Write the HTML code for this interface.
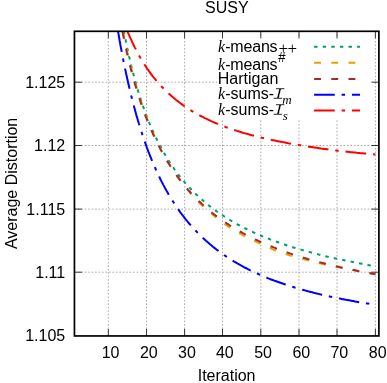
<!DOCTYPE html>
<html><head><meta charset="utf-8"><title>SUSY</title>
<style>
html,body{margin:0;padding:0;background:#fff;}
svg{display:block;}
text{font-family:"Liberation Sans",sans-serif;fill:#000;}
.it{font-family:"Liberation Serif",serif;font-style:italic;}
.pl{font-family:"Liberation Serif",serif;}
.cal{font-family:"Liberation Mono",monospace;font-style:italic;}
</style></head><body>
<svg width="387" height="383" viewBox="0 0 387 383">
<rect x="0" y="0" width="387" height="383" fill="#fff"/>
<defs><clipPath id="c"><rect x="74.45" y="31.30" width="304.45" height="304.65"/></clipPath></defs>

<g stroke="#000" stroke-opacity="0.45" stroke-width="0.75" stroke-dasharray="1.6 1.85" fill="none">
<line x1="108.3" y1="335.95" x2="108.3" y2="31.3"/>
<line x1="146.5" y1="335.95" x2="146.5" y2="31.3"/>
<line x1="184.6" y1="335.95" x2="184.6" y2="31.3"/>
<line x1="222.5" y1="335.95" x2="222.5" y2="31.3"/>
<line x1="260.8" y1="335.95" x2="260.8" y2="31.3"/>
<line x1="299.0" y1="335.95" x2="299.0" y2="31.3"/>
<line x1="337.0" y1="335.95" x2="337.0" y2="31.3"/>
<line x1="375.4" y1="335.95" x2="375.4" y2="31.3"/>
<line x1="74.45" y1="82.2" x2="378.9" y2="82.2"/>
<line x1="74.45" y1="145.5" x2="378.9" y2="145.5"/>
<line x1="74.45" y1="209.1" x2="378.9" y2="209.1"/>
<line x1="74.45" y1="272.2" x2="378.9" y2="272.2"/>
</g>
<g clip-path="url(#c)">
<path d="M122.8,25.3 L123.1,26.8 L123.4,28.3 L123.7,29.9 L124.0,31.4 L124.2,32.9 L124.5,34.3 L124.8,35.9 L125.1,37.4 L125.4,38.9 L125.7,40.4 L126.0,41.9 L126.3,43.4 L126.6,44.9 L126.9,46.4 L127.2,47.9 L127.6,49.5 L127.9,51.0 L128.2,52.4 L128.5,54.0 L128.9,55.5 L129.2,57.0 L129.6,58.4 L129.9,60.0 L130.3,61.5 L130.6,62.9 L131.0,64.4 L131.3,65.9 L131.7,67.4 L132.0,68.9 L132.4,70.4 L132.8,71.9 L133.2,73.3 L133.6,74.8 L134.0,76.3 L134.3,77.7 L134.7,79.2 L135.1,80.7 L135.5,82.1 L136.0,83.6 L136.4,85.1 L136.8,86.5 L137.2,88.0 L137.6,89.4 L138.1,90.9 L138.5,92.4 L139.0,93.8 L139.4,95.3 L139.9,96.7 L140.4,98.2 L140.8,99.6 L141.3,101.1 L141.8,102.5 L142.3,104.0 L142.8,105.4 L143.3,106.8 L143.8,108.3 L144.3,109.7 L144.8,111.2 L145.3,112.6 L145.9,114.0 L146.4,115.4 L146.9,116.8 L147.5,118.2 L148.0,119.6 L148.6,121.0 L149.2,122.5 L149.7,123.9 L150.3,125.3 L150.9,126.6 L151.5,128.0 L152.1,129.4 L152.7,130.8 L153.4,132.2 L154.0,133.6 L154.6,135.0 L155.3,136.3 L155.9,137.7 L156.6,139.0 L157.3,140.4 L158.0,141.8 L158.6,143.1 L159.3,144.5 L160.0,145.8 L160.8,147.1 L161.5,148.5 L162.2,149.8 L163.0,151.1 L163.7,152.4 L164.5,153.7 L165.2,155.1 L166.0,156.4 L166.8,157.6 L167.6,158.9 L168.4,160.2 L169.2,161.5 L170.1,162.8 L170.9,164.0 L171.7,165.3 L172.6,166.5 L173.5,167.8 L174.3,169.0 L175.2,170.2 L176.1,171.5 L177.0,172.7 L177.9,173.9 L178.8,175.1 L179.8,176.3 L180.7,177.5 L181.7,178.6 L182.6,179.8 L183.6,181.0 L184.6,182.1 L185.6,183.3 L186.6,184.4 L187.6,185.5 L188.6,186.6 L189.6,187.7 L190.7,188.8 L191.7,189.9 L192.8,191.0 L193.8,192.1 L194.9,193.1 L196.0,194.2 L197.1,195.2 L198.2,196.3 L199.3,197.3 L200.4,198.3 L201.5,199.3 L202.7,200.3 L203.8,201.3 L204.9,202.2 L206.1,203.2 L207.3,204.2 L208.4,205.1 L209.6,206.0 L210.8,207.0 L212.0,207.9 L213.2,208.8 L214.4,209.7 L215.7,210.6 L216.9,211.5 L218.1,212.3 L219.4,213.2 L220.6,214.1 L221.9,214.9 L223.1,215.7 L224.4,216.5 L225.7,217.4 L226.9,218.2 L228.2,219.0 L229.5,219.7 L230.8,220.5 L232.1,221.3 L233.4,222.0 L234.7,222.8 L236.0,223.5 L237.3,224.3 L238.7,225.0 L240.0,225.7 L241.3,226.4 L242.7,227.1 L244.0,227.8 L245.4,228.5 L246.7,229.1 L248.1,229.8 L249.4,230.4 L250.8,231.1 L252.2,231.7 L253.5,232.4 L254.9,233.0 L256.3,233.6 L257.7,234.2 L259.0,234.8 L260.4,235.4 L261.8,236.0 L263.2,236.6 L264.6,237.2 L266.0,237.7 L267.4,238.3 L268.8,238.8 L270.2,239.4 L271.6,239.9 L273.0,240.5 L274.4,241.0 L275.9,241.5 L277.3,242.0 L278.7,242.5 L280.1,243.0 L281.5,243.5 L283.0,244.0 L284.4,244.5 L285.8,245.0 L287.3,245.5 L288.7,245.9 L290.1,246.4 L291.6,246.8 L293.0,247.3 L294.4,247.7 L295.9,248.2 L297.3,248.6 L298.8,249.0 L300.2,249.5 L301.7,249.9 L303.1,250.3 L304.6,250.7 L306.0,251.1 L307.5,251.5 L308.9,251.9 L310.4,252.3 L311.8,252.7 L313.3,253.1 L314.7,253.5 L316.2,253.9 L317.7,254.2 L319.1,254.6 L320.6,255.0 L322.0,255.3 L323.5,255.7 L325.0,256.1 L326.4,256.4 L327.9,256.7 L329.4,257.1 L330.9,257.4 L332.3,257.8 L333.8,258.1 L335.3,258.4 L336.7,258.8 L338.2,259.1 L339.7,259.4 L341.1,259.7 L342.6,260.0 L344.1,260.3 L345.6,260.6 L347.0,260.9 L348.5,261.2 L350.0,261.5 L351.5,261.8 L353.0,262.1 L354.4,262.4 L355.9,262.7 L357.4,263.0 L358.9,263.3 L360.4,263.5 L361.9,263.8 L363.3,264.1 L364.8,264.4 L366.3,264.6 L367.8,264.9 L369.3,265.2 L370.8,265.4 L372.0,265.6" fill="none" stroke="#009e73" stroke-width="2" stroke-dasharray="3.44 5.16" stroke-dashoffset="2.95"/>
<path d="M121.8,25.3 L122.1,26.9 L122.4,28.4 L122.7,29.9 L123.0,31.4 L123.3,32.8 L123.6,34.4 L123.9,35.9 L124.2,37.4 L124.5,38.9 L124.8,40.4 L125.2,41.9 L125.5,43.4 L125.8,44.9 L126.1,46.4 L126.5,47.9 L126.8,49.4 L127.1,50.9 L127.5,52.4 L127.8,53.8 L128.2,55.3 L128.5,56.8 L128.9,58.3 L129.2,59.8 L129.6,61.3 L129.9,62.8 L130.3,64.2 L130.7,65.7 L131.0,67.2 L131.4,68.7 L131.8,70.1 L132.2,71.6 L132.6,73.1 L133.0,74.6 L133.4,76.0 L133.8,77.5 L134.2,79.0 L134.6,80.4 L135.0,81.9 L135.4,83.4 L135.8,84.8 L136.3,86.3 L136.7,87.8 L137.1,89.2 L137.6,90.7 L138.0,92.2 L138.5,93.6 L138.9,95.1 L139.4,96.5 L139.9,98.0 L140.4,99.4 L140.8,100.9 L141.3,102.3 L141.8,103.7 L142.3,105.2 L142.8,106.6 L143.3,108.1 L143.8,109.5 L144.3,110.9 L144.8,112.3 L145.3,113.8 L145.9,115.2 L146.4,116.6 L146.9,118.0 L147.4,119.4 L148.0,120.9 L148.5,122.3 L149.1,123.7 L149.7,125.1 L150.2,126.5 L150.8,127.9 L151.4,129.3 L152.0,130.7 L152.6,132.2 L153.2,133.5 L153.8,135.0 L154.4,136.3 L155.1,137.7 L155.7,139.1 L156.3,140.5 L157.0,141.9 L157.6,143.3 L158.3,144.6 L159.0,146.0 L159.6,147.3 L160.3,148.7 L161.0,150.0 L161.7,151.4 L162.4,152.7 L163.1,154.0 L163.9,155.4 L164.6,156.7 L165.4,158.0 L166.1,159.3 L166.9,160.6 L167.7,161.9 L168.5,163.2 L169.3,164.5 L170.1,165.8 L170.9,167.0 L171.7,168.3 L172.5,169.6 L173.4,170.8 L174.2,172.1 L175.1,173.3 L175.9,174.6 L176.8,175.8 L177.7,177.0 L178.6,178.3 L179.5,179.5 L180.4,180.7 L181.3,181.9 L182.2,183.1 L183.2,184.3 L184.1,185.5 L185.0,186.7 L186.0,187.8 L187.0,189.0 L187.9,190.1 L188.9,191.3 L189.9,192.4 L190.9,193.6 L191.9,194.7 L192.9,195.9 L193.9,197.0 L194.9,198.1 L195.9,199.2 L197.0,200.3 L198.0,201.4 L199.1,202.5 L200.1,203.5 L201.2,204.6 L202.3,205.6 L203.4,206.7 L204.5,207.7 L205.7,208.7 L206.8,209.7 L207.9,210.7 L209.1,211.7 L210.2,212.7 L211.4,213.6 L212.6,214.6 L213.7,215.5 L214.9,216.5 L216.1,217.4 L217.3,218.4 L218.5,219.3 L219.7,220.2 L220.9,221.1 L222.1,222.0 L223.3,222.9 L224.5,223.8 L225.7,224.7 L227.0,225.5 L228.2,226.4 L229.5,227.2 L230.8,228.0 L232.0,228.8 L233.3,229.6 L234.6,230.4 L235.9,231.2 L237.2,231.9 L238.5,232.7 L239.8,233.4 L241.2,234.2 L242.5,234.9 L243.8,235.6 L245.1,236.3 L246.5,237.0 L247.8,237.7 L249.2,238.3 L250.5,239.0 L251.9,239.7 L253.2,240.3 L254.6,241.0 L256.0,241.6 L257.3,242.2 L258.7,242.9 L260.1,243.5 L261.4,244.2 L262.8,244.8 L264.2,245.4 L265.5,246.1 L266.9,246.7 L268.3,247.3 L269.7,247.9 L271.0,248.5 L272.4,249.1 L273.8,249.7 L275.2,250.2 L276.6,250.7 L278.1,251.3 L279.5,251.8 L280.9,252.3 L282.3,252.8 L283.7,253.3 L285.2,253.8 L286.6,254.3 L288.0,254.7 L289.5,255.2 L290.9,255.6 L292.3,256.1 L293.8,256.5 L295.3,256.9 L296.7,257.3 L298.2,257.7 L299.6,258.1 L301.1,258.5 L302.5,258.9 L304.0,259.2 L305.4,259.6 L306.9,260.0 L308.4,260.4 L309.8,260.8 L311.3,261.2 L312.7,261.5 L314.2,261.9 L315.6,262.3 L317.1,262.7 L318.6,263.0 L320.0,263.4 L321.5,263.7 L323.0,264.1 L324.4,264.4 L325.9,264.7 L327.4,265.0 L328.8,265.3 L330.3,265.6 L331.8,265.9 L333.3,266.2 L334.8,266.5 L336.3,266.8 L337.7,267.1 L339.2,267.3 L340.7,267.6 L342.2,267.9 L343.7,268.2 L345.2,268.5 L346.6,268.8 L348.1,269.1 L349.6,269.4 L351.1,269.7 L352.6,269.9 L354.1,270.2 L355.5,270.5 L357.0,270.8 L358.5,271.1 L360.0,271.4 L361.5,271.6 L363.0,271.9 L364.4,272.2 L365.9,272.5 L367.4,272.8 L368.9,273.0 L370.4,273.3 L371.9,273.6 L373.3,273.8 L374.8,274.1 L375.4,274.2" fill="none" stroke="#e69f00" stroke-width="2" stroke-dasharray="6.85 10.27" stroke-dashoffset="10.11"/>
<path d="M121.2,25.4 L121.5,26.9 L121.8,28.4 L122.1,29.9 L122.4,31.4 L122.7,32.9 L123.0,34.4 L123.3,35.9 L123.6,37.4 L123.9,38.9 L124.2,40.4 L124.5,41.9 L124.9,43.4 L125.2,44.9 L125.5,46.4 L125.8,47.9 L126.2,49.4 L126.5,50.9 L126.8,52.4 L127.2,53.9 L127.5,55.4 L127.9,56.9 L128.2,58.4 L128.6,59.9 L129.0,61.4 L129.3,62.9 L129.7,64.3 L130.1,65.9 L130.5,67.3 L130.8,68.8 L131.2,70.3 L131.6,71.8 L132.0,73.2 L132.4,74.7 L132.8,76.2 L133.2,77.7 L133.6,79.2 L134.0,80.6 L134.4,82.1 L134.8,83.5 L135.3,85.0 L135.7,86.5 L136.1,87.9 L136.6,89.4 L137.0,90.8 L137.5,92.3 L137.9,93.7 L138.4,95.2 L138.8,96.6 L139.3,98.1 L139.8,99.5 L140.3,101.0 L140.7,102.4 L141.2,103.9 L141.7,105.3 L142.2,106.7 L142.7,108.2 L143.2,109.6 L143.8,111.1 L144.3,112.5 L144.8,113.9 L145.3,115.3 L145.9,116.8 L146.4,118.2 L147.0,119.6 L147.5,121.0 L148.1,122.4 L148.7,123.8 L149.3,125.2 L149.8,126.6 L150.4,128.0 L151.0,129.4 L151.6,130.8 L152.3,132.2 L152.9,133.6 L153.5,135.0 L154.1,136.3 L154.8,137.7 L155.4,139.1 L156.1,140.4 L156.7,141.8 L157.4,143.2 L158.1,144.5 L158.8,145.9 L159.5,147.2 L160.2,148.6 L160.9,149.9 L161.6,151.2 L162.3,152.6 L163.0,153.9 L163.8,155.2 L164.5,156.5 L165.3,157.8 L166.1,159.2 L166.8,160.4 L167.6,161.7 L168.4,163.0 L169.2,164.3 L170.0,165.6 L170.8,166.9 L171.7,168.1 L172.5,169.4 L173.3,170.6 L174.2,171.9 L175.1,173.1 L175.9,174.4 L176.8,175.6 L177.7,176.8 L178.6,178.0 L179.5,179.2 L180.4,180.5 L181.4,181.7 L182.3,182.8 L183.2,184.0 L184.2,185.2 L185.2,186.3 L186.1,187.5 L187.1,188.6 L188.1,189.8 L189.1,190.9 L190.1,192.0 L191.1,193.2 L192.2,194.3 L193.2,195.4 L194.2,196.5 L195.3,197.6 L196.4,198.6 L197.4,199.7 L198.5,200.8 L199.6,201.8 L200.7,202.8 L201.8,203.9 L202.9,204.9 L204.0,205.9 L205.1,206.9 L206.3,207.9 L207.4,208.9 L208.6,209.9 L209.7,210.8 L210.9,211.8 L212.1,212.7 L213.3,213.7 L214.4,214.6 L215.6,215.5 L216.8,216.4 L218.0,217.3 L219.3,218.2 L220.5,219.1 L221.7,220.0 L222.9,220.8 L224.2,221.7 L225.4,222.5 L226.7,223.4 L228.0,224.2 L229.2,225.0 L230.5,225.8 L231.8,226.6 L233.0,227.4 L234.3,228.2 L235.6,229.0 L236.9,229.8 L238.2,230.5 L239.5,231.3 L240.9,232.0 L242.2,232.7 L243.5,233.5 L244.8,234.2 L246.2,234.9 L247.5,235.6 L248.8,236.3 L250.2,236.9 L251.5,237.6 L252.9,238.3 L254.2,238.9 L255.6,239.6 L257.0,240.2 L258.3,240.9 L259.7,241.5 L261.1,242.1 L262.5,242.7 L263.8,243.3 L265.2,243.9 L266.6,244.5 L268.0,245.1 L269.4,245.7 L270.8,246.3 L272.2,246.8 L273.6,247.4 L275.0,247.9 L276.4,248.5 L277.8,249.0 L279.2,249.5 L280.6,250.1 L282.0,250.6 L283.5,251.1 L284.9,251.6 L286.3,252.1 L287.7,252.6 L289.1,253.1 L290.6,253.6 L292.0,254.1 L293.4,254.5 L294.9,255.0 L296.3,255.5 L297.7,255.9 L299.2,256.4 L300.6,256.8 L302.1,257.3 L303.5,257.7 L304.9,258.1 L306.4,258.5 L307.8,259.0 L309.3,259.4 L310.7,259.8 L312.2,260.2 L313.6,260.6 L315.1,261.0 L316.5,261.4 L318.0,261.8 L319.5,262.2 L320.9,262.6 L322.4,262.9 L323.8,263.3 L325.3,263.7 L326.7,264.0 L328.2,264.4 L329.7,264.8 L331.2,265.1 L332.6,265.5 L334.1,265.8 L335.6,266.2 L337.0,266.5 L338.5,266.8 L340.0,267.2 L341.4,267.5 L342.9,267.8 L344.4,268.1 L345.9,268.5 L347.3,268.8 L348.8,269.1 L350.3,269.4 L351.7,269.7 L353.2,270.0 L354.7,270.3 L356.2,270.6 L357.6,270.9 L359.1,271.2 L360.6,271.5 L362.1,271.8 L363.6,272.0 L365.1,272.3 L366.5,272.6 L368.0,272.9 L369.5,273.1 L371.0,273.4 L372.5,273.7 L374.0,273.9 L375.4,274.2" fill="none" stroke="#a52a2a" stroke-width="2" stroke-dasharray="6.85 10.27" stroke-dashoffset="10.52"/>
<path d="M117.0,25.3 L117.3,26.9 L117.5,28.4 L117.8,29.9 L118.0,31.4 L118.3,32.9 L118.6,34.4 L118.8,36.0 L119.1,37.5 L119.4,39.0 L119.6,40.5 L119.9,42.0 L120.2,43.5 L120.4,45.0 L120.7,46.6 L121.0,48.1 L121.3,49.6 L121.6,51.1 L121.8,52.5 L122.1,54.1 L122.4,55.6 L122.7,57.1 L123.0,58.6 L123.3,60.1 L123.6,61.6 L123.9,63.1 L124.2,64.6 L124.5,66.1 L124.8,67.6 L125.1,69.1 L125.5,70.6 L125.8,72.1 L126.1,73.6 L126.4,75.1 L126.8,76.6 L127.1,78.1 L127.4,79.6 L127.8,81.1 L128.1,82.6 L128.4,84.1 L128.8,85.6 L129.1,87.1 L129.5,88.6 L129.8,90.0 L130.2,91.5 L130.6,93.0 L130.9,94.5 L131.3,96.0 L131.7,97.5 L132.0,99.0 L132.4,100.5 L132.8,101.9 L133.2,103.4 L133.6,104.9 L134.0,106.4 L134.4,107.9 L134.8,109.3 L135.2,110.8 L135.6,112.3 L136.0,113.7 L136.4,115.2 L136.8,116.7 L137.3,118.1 L137.7,119.6 L138.1,121.1 L138.6,122.5 L139.0,124.0 L139.5,125.5 L139.9,126.9 L140.4,128.4 L140.8,129.8 L141.3,131.3 L141.8,132.7 L142.2,134.2 L142.7,135.6 L143.2,137.1 L143.7,138.5 L144.2,140.0 L144.7,141.4 L145.2,142.8 L145.7,144.2 L146.2,145.7 L146.7,147.1 L147.3,148.5 L147.8,150.0 L148.3,151.4 L148.9,152.8 L149.4,154.2 L150.0,155.6 L150.5,157.0 L151.1,158.4 L151.7,159.8 L152.3,161.3 L152.9,162.7 L153.5,164.0 L154.1,165.4 L154.7,166.8 L155.3,168.2 L155.9,169.6 L156.5,171.0 L157.2,172.3 L157.8,173.7 L158.4,175.1 L159.1,176.4 L159.8,177.8 L160.4,179.2 L161.1,180.5 L161.8,181.9 L162.5,183.2 L163.2,184.6 L163.9,185.9 L164.6,187.2 L165.3,188.6 L166.1,189.9 L166.8,191.2 L167.6,192.5 L168.3,193.8 L169.1,195.2 L169.9,196.4 L170.6,197.7 L171.4,199.0 L172.2,200.3 L173.1,201.6 L173.9,202.9 L174.7,204.1 L175.5,205.4 L176.4,206.6 L177.2,207.9 L178.1,209.1 L179.0,210.4 L179.8,211.6 L180.7,212.8 L181.6,214.0 L182.5,215.2 L183.5,216.4 L184.4,217.6 L185.3,218.8 L186.3,220.0 L187.2,221.2 L188.2,222.3 L189.2,223.5 L190.2,224.6 L191.2,225.8 L192.2,226.9 L193.2,228.0 L194.2,229.1 L195.2,230.3 L196.3,231.3 L197.3,232.4 L198.4,233.5 L199.4,234.6 L200.5,235.6 L201.6,236.7 L202.7,237.7 L203.8,238.8 L204.9,239.8 L206.0,240.8 L207.2,241.8 L208.3,242.8 L209.4,243.8 L210.6,244.7 L211.8,245.7 L212.9,246.7 L214.1,247.6 L215.3,248.5 L216.5,249.5 L217.7,250.4 L218.9,251.3 L220.1,252.2 L221.3,253.1 L222.6,253.9 L223.8,254.8 L225.0,255.7 L226.3,256.5 L227.5,257.3 L228.8,258.2 L230.1,259.0 L231.4,259.8 L232.6,260.6 L233.9,261.4 L235.2,262.1 L236.5,262.9 L237.8,263.7 L239.1,264.4 L240.5,265.2 L241.8,265.9 L243.1,266.6 L244.4,267.3 L245.8,268.0 L247.1,268.7 L248.4,269.4 L249.8,270.1 L251.2,270.7 L252.5,271.4 L253.9,272.0 L255.2,272.7 L256.6,273.3 L258.0,273.9 L259.4,274.5 L260.7,275.1 L262.1,275.7 L263.5,276.3 L264.9,276.9 L266.3,277.5 L267.7,278.1 L269.1,278.6 L270.5,279.2 L271.9,279.7 L273.3,280.2 L274.7,280.8 L276.1,281.3 L277.6,281.8 L279.0,282.3 L280.4,282.8 L281.8,283.3 L283.3,283.8 L284.7,284.3 L286.1,284.8 L287.5,285.2 L289.0,285.7 L290.4,286.1 L291.9,286.6 L293.3,287.0 L294.7,287.5 L296.2,287.9 L297.6,288.3 L299.1,288.8 L300.5,289.2 L302.0,289.6 L303.4,290.0 L304.9,290.4 L306.3,290.8 L307.8,291.2 L309.2,291.6 L310.7,291.9 L312.2,292.3 L313.6,292.7 L315.1,293.1 L316.5,293.4 L318.0,293.8 L319.5,294.1 L320.9,294.5 L322.4,294.8 L323.9,295.2 L325.4,295.5 L326.8,295.8 L328.3,296.1 L329.8,296.5 L331.2,296.8 L332.7,297.1 L334.2,297.4 L335.6,297.7 L337.1,298.0 L338.6,298.3 L340.1,298.6 L341.6,298.9 L343.1,299.2 L344.5,299.5 L346.0,299.8 L347.5,300.0 L349.0,300.3 L350.5,300.6 L352.0,300.9 L353.4,301.1 L354.9,301.4 L356.4,301.7 L357.9,301.9 L359.4,302.2 L360.9,302.4 L362.3,302.7 L363.8,302.9 L365.3,303.1 L366.8,303.4 L368.3,303.6 L369.8,303.9 L371.2,304.1 L372.7,304.3 L374.2,304.5 L375.4,304.7" fill="none" stroke="#0000ff" stroke-width="2" stroke-dasharray="20.62 6.87 3.44 6.87" stroke-dashoffset="31.48"/>
<path d="M125.1,25.3 L125.7,26.7 L126.2,28.1 L126.8,29.5 L127.4,31.0 L127.9,32.4 L128.5,33.8 L129.1,35.2 L129.7,36.5 L130.3,37.9 L131.0,39.3 L131.6,40.7 L132.2,42.1 L132.9,43.5 L133.5,44.8 L134.2,46.2 L134.9,47.6 L135.6,48.9 L136.3,50.3 L137.0,51.6 L137.7,52.9 L138.4,54.3 L139.1,55.6 L139.9,56.9 L140.6,58.2 L141.4,59.5 L142.2,60.8 L143.0,62.1 L143.8,63.4 L144.6,64.7 L145.4,65.9 L146.3,67.2 L147.1,68.5 L148.0,69.7 L148.8,70.9 L149.7,72.2 L150.6,73.4 L151.5,74.6 L152.4,75.8 L153.4,77.0 L154.3,78.2 L155.3,79.3 L156.2,80.5 L157.2,81.7 L158.2,82.8 L159.2,83.9 L160.2,85.1 L161.2,86.2 L162.3,87.3 L163.3,88.3 L164.4,89.4 L165.5,90.5 L166.5,91.5 L167.6,92.6 L168.7,93.6 L169.9,94.6 L171.0,95.6 L172.1,96.6 L173.3,97.6 L174.4,98.6 L175.6,99.5 L176.8,100.5 L178.0,101.4 L179.2,102.3 L180.4,103.2 L181.6,104.1 L182.8,105.0 L184.0,105.9 L185.3,106.7 L186.5,107.6 L187.8,108.4 L189.1,109.2 L190.3,110.0 L191.6,110.8 L192.9,111.6 L194.2,112.4 L195.5,113.1 L196.8,113.9 L198.2,114.6 L199.5,115.3 L200.8,116.0 L202.1,116.7 L203.5,117.4 L204.8,118.1 L206.2,118.7 L207.6,119.4 L208.9,120.0 L210.3,120.7 L211.7,121.3 L213.0,121.9 L214.4,122.5 L215.8,123.1 L217.2,123.7 L218.6,124.3 L220.0,124.8 L221.4,125.4 L222.8,125.9 L224.2,126.4 L225.6,127.0 L227.0,127.5 L228.4,128.0 L229.9,128.5 L231.3,129.0 L232.7,129.5 L234.2,130.0 L235.6,130.4 L237.0,130.9 L238.5,131.3 L239.9,131.8 L241.4,132.2 L242.8,132.7 L244.2,133.1 L245.7,133.5 L247.1,133.9 L248.6,134.3 L250.0,134.7 L251.5,135.1 L253.0,135.5 L254.4,135.9 L255.9,136.2 L257.3,136.6 L258.8,137.0 L260.3,137.3 L261.7,137.7 L263.2,138.0 L264.7,138.4 L266.1,138.7 L267.6,139.0 L269.1,139.4 L270.6,139.7 L272.0,140.0 L273.5,140.3 L275.0,140.6 L276.4,140.9 L277.9,141.2 L279.4,141.5 L280.9,141.8 L282.4,142.1 L283.9,142.3 L285.3,142.6 L286.8,142.9 L288.3,143.2 L289.8,143.4 L291.3,143.7 L292.8,143.9 L294.2,144.2 L295.7,144.4 L297.2,144.7 L298.7,144.9 L300.2,145.2 L301.7,145.4 L303.2,145.7 L304.6,145.9 L306.1,146.2 L307.6,146.4 L309.1,146.7 L310.6,146.9 L312.1,147.1 L313.5,147.4 L315.0,147.6 L316.5,147.8 L318.0,148.0 L319.5,148.2 L321.0,148.5 L322.5,148.7 L324.0,148.9 L325.5,149.1 L327.0,149.3 L328.5,149.5 L330.0,149.7 L331.5,149.9 L333.0,150.1 L334.5,150.3 L336.0,150.5 L337.5,150.7 L338.9,150.8 L340.4,151.0 L341.9,151.2 L343.4,151.4 L344.9,151.5 L346.4,151.7 L347.9,151.8 L349.4,152.0 L350.9,152.2 L352.4,152.3 L353.9,152.5 L355.4,152.6 L356.9,152.8 L358.4,152.9 L359.9,153.1 L361.4,153.2 L362.9,153.3 L364.4,153.5 L365.9,153.6 L367.4,153.8 L368.9,153.9 L370.4,154.0 L371.9,154.2 L373.4,154.3 L374.9,154.4 L375.4,154.5" fill="none" stroke="#ff0000" stroke-width="2" stroke-dasharray="20.67 6.89 3.44 6.89" stroke-dashoffset="32.16"/>
</g>
<rect x="217.5" y="38.5" width="155" height="80.5" fill="#fff"/>
<g stroke="#222" stroke-width="0.9">
<line x1="108.3" y1="335.95" x2="108.3" y2="328.95"/><line x1="108.3" y1="31.3" x2="108.3" y2="38.3"/>
<line x1="146.5" y1="335.95" x2="146.5" y2="328.95"/><line x1="146.5" y1="31.3" x2="146.5" y2="38.3"/>
<line x1="184.6" y1="335.95" x2="184.6" y2="328.95"/><line x1="184.6" y1="31.3" x2="184.6" y2="38.3"/>
<line x1="222.5" y1="335.95" x2="222.5" y2="328.95"/><line x1="222.5" y1="31.3" x2="222.5" y2="38.3"/>
<line x1="260.8" y1="335.95" x2="260.8" y2="328.95"/><line x1="260.8" y1="31.3" x2="260.8" y2="38.3"/>
<line x1="299.0" y1="335.95" x2="299.0" y2="328.95"/><line x1="299.0" y1="31.3" x2="299.0" y2="38.3"/>
<line x1="337.0" y1="335.95" x2="337.0" y2="328.95"/><line x1="337.0" y1="31.3" x2="337.0" y2="38.3"/>
<line x1="375.4" y1="335.95" x2="375.4" y2="328.95"/><line x1="375.4" y1="31.3" x2="375.4" y2="38.3"/>
<line x1="74.45" y1="82.2" x2="81.95" y2="82.2"/><line x1="378.9" y1="82.2" x2="371.4" y2="82.2"/>
<line x1="74.45" y1="145.5" x2="81.95" y2="145.5"/><line x1="378.9" y1="145.5" x2="371.4" y2="145.5"/>
<line x1="74.45" y1="209.1" x2="81.95" y2="209.1"/><line x1="378.9" y1="209.1" x2="371.4" y2="209.1"/>
<line x1="74.45" y1="272.2" x2="81.95" y2="272.2"/><line x1="378.9" y1="272.2" x2="371.4" y2="272.2"/>
</g>
<rect x="74.45" y="31.3" width="304.45" height="304.65" fill="none" stroke="#000" stroke-width="1.7"/>
<g font-size="16">
<text x="65.2" y="87.8" text-anchor="end">1.125</text>
<text x="65.2" y="151.1" text-anchor="end">1.12</text>
<text x="65.2" y="214.7" text-anchor="end">1.115</text>
<text x="65.2" y="277.8" text-anchor="end">1.11</text>
<text x="65.2" y="341.4" text-anchor="end">1.105</text>
<text x="110.6" y="358" text-anchor="middle">10</text>
<text x="148.8" y="358" text-anchor="middle">20</text>
<text x="186.9" y="358" text-anchor="middle">30</text>
<text x="224.8" y="358" text-anchor="middle">40</text>
<text x="263.1" y="358" text-anchor="middle">50</text>
<text x="301.3" y="358" text-anchor="middle">60</text>
<text x="339.3" y="358" text-anchor="middle">70</text>
<text x="377.7" y="358" text-anchor="middle">80</text>
<text x="226.8" y="12.9" text-anchor="middle">SUSY</text>
<text x="226.6" y="381.3" text-anchor="middle">Iteration</text>
<text transform="translate(16.7,183.4) rotate(-90)" text-anchor="middle">Average Distortion</text>
</g>
<line x1="314.1" y1="46.7" x2="360" y2="46.7" stroke="#009e73" stroke-width="2" stroke-dasharray="3.44 5.16"/>
<line x1="314.1" y1="62.7" x2="360" y2="62.7" stroke="#e69f00" stroke-width="2" stroke-dasharray="6.88 10.32"/>
<line x1="314.1" y1="78.9" x2="360" y2="78.9" stroke="#a52a2a" stroke-width="2" stroke-dasharray="6.88 10.32"/>
<line x1="314.1" y1="94.7" x2="360" y2="94.7" stroke="#0000ff" stroke-width="2" stroke-dasharray="20.64 6.88 3.44 6.88"/>
<line x1="314.1" y1="110.6" x2="360" y2="110.6" stroke="#ff0000" stroke-width="2" stroke-dasharray="20.64 6.88 3.44 6.88"/>
<g font-size="16">
<text x="217.9" y="51.9" class="it">k</text><text x="225.2" y="51.9" textLength="52.4" lengthAdjust="spacing">-means</text><text x="278.6" y="53.7" class="pl" font-size="17" letter-spacing="-0.7">++</text>
<text x="217.9" y="69.6" class="it">k</text><text x="225.2" y="69.6" textLength="52.4" lengthAdjust="spacing">-means</text><text transform="translate(278.0,62.0) scale(0.88,1)" font-size="15" style="font-style:italic">#</text>
<text x="217.8" y="83.7">Hartigan</text>
<text x="217.9" y="98.6" class="it">k</text><text x="225.2" y="98.6">-sums-</text><text transform="translate(272.3,98.6) scale(1.36,1)" class="cal" stroke="#fff" stroke-width="0.35" vector-effect="non-scaling-stroke">I</text><text x="282.2" y="103.6" class="it" font-size="13">m</text>
<text x="217.9" y="114.7" class="it">k</text><text x="225.2" y="114.7">-sums-</text><text transform="translate(272.3,114.7) scale(1.36,1)" class="cal" stroke="#fff" stroke-width="0.35" vector-effect="non-scaling-stroke">I</text><text x="282.7" y="119.5" class="it" font-size="13">s</text>
</g>

</svg></body></html>
